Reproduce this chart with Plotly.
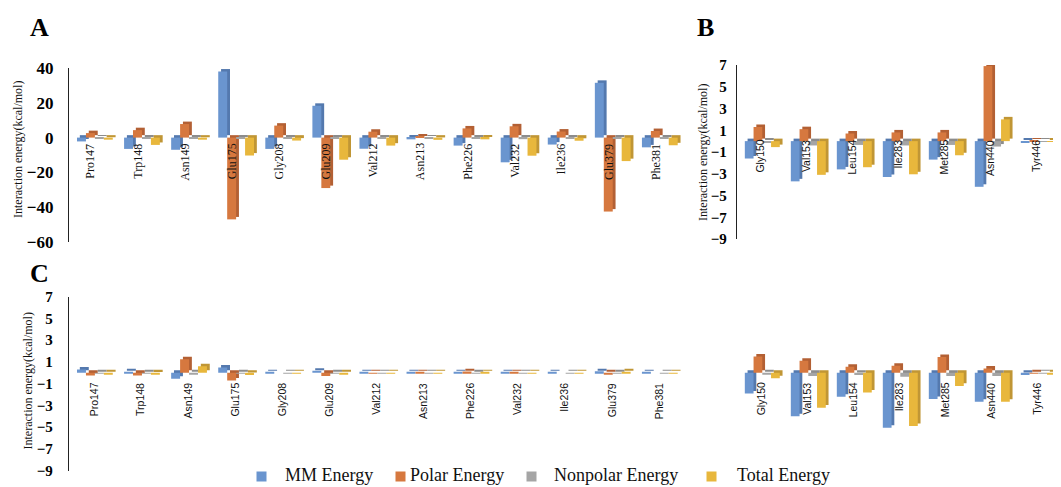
import plotly.graph_objects as go

# page is shown with the default 8px body margin; compensate so that
# the layout coordinates below are page pixels of the 1061x487 window
OFF = 8
W, H = 1061 - OFF, 487 - OFF

# ---------------- data ----------------
series_names = ["MM Energy", "Polar Energy", "Nonpolar Energy", "Total Energy"]

res_AC = ["Pro147", "Trp148", "Asn149", "Glu175", "Gly208", "Glu209", "Val212",
          "Asn213", "Phe226", "Val232", "Ile236", "Glu379", "Phe381"]
res_BD = ["Gly150", "Val153", "Leu154", "Ile283", "Met285", "Asn440", "Tyr446"]

A_mm = [-2.2, -6.5, -7.0, 38.0, -6.5, 18.3, -6.4, -1.0, -4.6, -14.2, -4.0, 31.5, -5.6]
A_polar = [2.6, 4.3, 7.8, -47.0, 6.9, -29.0, 3.4, 0.6, 5.3, 6.5, 3.5, -42.5, 3.8]
A_nonpolar = [-0.4, -0.6, -0.5, -0.6, -0.5, -0.7, -0.6, -0.3, -0.6, -0.9, -0.5, -0.7, -0.6]
A_total = [-1.2, -4.2, -1.2, -10.3, -1.7, -12.7, -4.6, -1.3, -1.0, -10.4, -1.8, -13.5, -4.4]

B_mm = [-1.6, -3.7, -2.6, -3.3, -1.7, -4.2, -0.1]
B_polar = [1.3, 1.1, 0.7, 0.8, 0.8, 6.9, 0.05]
B_nonpolar = [-0.1, -0.4, -0.35, -0.4, -0.35, -0.5, -0.02]
B_total = [-0.55, -3.1, -2.4, -3.05, -1.3, 2.0, -0.05]

C_mm = [0.3, 0.08, -0.55, 0.5, 0.03, 0.2, 0.03, 0.03, 0.05, 0.03, 0.03, 0.15, 0.03]
C_polar = [-0.25, -0.25, 1.25, -0.7, 0.0, -0.3, -0.02, 0.02, 0.12, 0.02, 0.0, -0.1, 0.0]
C_nonpolar = [-0.05, -0.05, -0.1, -0.05, -0.02, -0.05, -0.02, -0.02, -0.05, -0.02, -0.02, -0.05, -0.02]
C_total = [-0.1, -0.15, 0.6, -0.2, -0.02, -0.1, -0.02, -0.02, 0.05, -0.02, -0.02, 0.1, -0.02]

D_mm = [-1.9, -4.0, -2.2, -5.05, -2.4, -2.65, -0.2]
D_polar = [1.5, 1.1, 0.55, 0.65, 1.45, 0.4, -0.05]
D_nonpolar = [-0.1, -0.3, -0.2, -0.35, -0.3, -0.3, -0.02]
D_total = [-0.5, -3.2, -1.8, -4.9, -1.2, -2.65, -0.1]

A_ticks = [-60, -40, -20, 0, 20, 40]
BC_ticks = [-9, -7, -5, -3, -1, 1, 3, 5, 7]

# ---------------- styling ----------------
front = ["#6A95CF", "#D6783F", "#A5A5A5", "#E8B73C"]
dark = ["#5479AE", "#B36034", "#8C8C8C", "#C09635"]
offsets = [-0.33, -0.14, 0.05, 0.24]
bw = 0.19
dx = 0.06


def px(p):
    return (p - OFF) / W


def py(p):
    return 1 - (p - OFF) / H


panels = [
    # key, cats, data, xaxis, yaxis, depth (data units ~ 2.5 px)
    ("A", res_AC, [A_mm, A_polar, A_nonpolar, A_total], "x", "y", 1.4),
    ("B", res_BD, [B_mm, B_polar, B_nonpolar, B_total], "x2", "y2", 0.23),
    ("C", res_AC, [C_mm, C_polar, C_nonpolar, C_total], "x3", "y3", 0.23),
    ("D", res_BD, [D_mm, D_polar, D_nonpolar, D_total], "x4", "y4", 0.23),
]

fig = go.Figure()
annotations = []

for key, cats, data, xa, ya, depth in panels:
    for i, vals in enumerate(data):
        fig.add_trace(go.Bar(
            x=cats, y=vals, base=depth, offset=offsets[i] + dx, width=bw,
            marker=dict(color=dark[i], line=dict(width=0)),
            xaxis=xa, yaxis=ya, showlegend=False, hoverinfo="skip"))
        fig.add_trace(go.Bar(
            x=cats, y=vals, offset=offsets[i], width=bw, name=series_names[i],
            marker=dict(color=front[i], line=dict(width=0)),
            xaxis=xa, yaxis=ya, showlegend=False))
    # category labels along the zero line
    if key == "A":
        fnt = dict(family="Liberation Serif", size=12, color="#111")
        ysh, xsh = -4, -2
    elif key == "B":
        fnt = dict(family="Liberation Sans", size=10.5, color="#111")
        ysh, xsh = 3, 0
    else:
        fnt = dict(family="Liberation Sans", size=10.5, color="#111")
        ysh, xsh = -8, 1
    for c in cats:
        annotations.append(dict(
            x=c, y=0, xref=xa, yref=ya, text=c, textangle=-90, showarrow=False,
            xanchor="center", yanchor="top", yshift=ysh, xshift=xsh, font=fnt))

# y-axis titles
ytitle = "Interaction energy(kcal/mol)"
for xx, yy in [(18, 150), (703, 153), (27.5, 381)]:
    annotations.append(dict(
        x=px(xx), y=py(yy), xref="paper", yref="paper", text=ytitle,
        textangle=-90, showarrow=False, xanchor="center", yanchor="middle",
        font=dict(family="Liberation Serif", size=12, color="#111")))

# panel letters
for letter, xx, yy in [("A", 39, 27), ("B", 705, 27), ("C", 39, 273)]:
    annotations.append(dict(
        x=px(xx), y=py(yy), xref="paper", yref="paper", text=letter,
        showarrow=False, xanchor="center", yanchor="middle",
        font=dict(family="Liberation Serif", size=26, color="#000", weight="bold")))

# legend (manual, to reproduce spacing)
leg_sq = [261, 400, 531, 711]
leg_tx = [283, 408, 552, 735]
for i in range(4):
    annotations.append(dict(
        x=px(leg_sq[i]), y=py(476), xref="paper", yref="paper", text=" ",
        showarrow=False, xanchor="center", yanchor="middle", bgcolor=front[i],
        width=9, height=9, borderpad=0, font=dict(size=4)))
    annotations.append(dict(
        x=px(leg_tx[i]), y=py(475), xref="paper", yref="paper", text=series_names[i],
        showarrow=False, xanchor="left", yanchor="middle",
        font=dict(family="Liberation Serif", size=18, color="#111")))

xcommon = dict(showticklabels=False, showgrid=False, zeroline=False, showline=False,
               ticks="", type="category", fixedrange=True, automargin=False)
ycommon = dict(showgrid=False, zeroline=False, showline=True, linecolor="#222",
               linewidth=1.3, ticks="", fixedrange=True, automargin=False)

fig.update_layout(
    template="none",
    width=W, height=H, margin=dict(l=0, r=0, t=0, b=0, pad=0, autoexpand=False),
    paper_bgcolor="white", plot_bgcolor="white",
    barmode="overlay", showlegend=False,
    annotations=annotations,
    xaxis=dict(domain=[px(69), px(681)], range=[-0.5, 12.5], anchor="y", **xcommon),
    xaxis2=dict(domain=[px(737), px(1059)], range=[-0.5, 6.5], anchor="y2", **xcommon),
    xaxis3=dict(domain=[px(69), px(681)], range=[-0.5, 12.5], anchor="y3", **xcommon),
    xaxis4=dict(domain=[px(737), px(1059)], range=[-0.5, 6.5], anchor="y4", **xcommon),
    yaxis=dict(domain=[py(242), py(68)], range=[-60, 40], tickvals=A_ticks, anchor="x",
               ticklabelstandoff=11,
               tickfont=dict(family="Liberation Serif", size=17, color="#000", weight="bold"),
               **ycommon),
    yaxis2=dict(domain=[py(239), py(65)], range=[-9, 7], tickvals=BC_ticks, anchor="x2",
                ticklabelstandoff=6,
                tickfont=dict(family="Liberation Serif", size=15, color="#000", weight="bold"),
                **ycommon),
    yaxis3=dict(domain=[py(470.7), py(296.7)], range=[-9, 7], tickvals=BC_ticks, anchor="x3",
                ticklabelstandoff=12,
                tickfont=dict(family="Liberation Serif", size=15, color="#000", weight="bold"),
                **ycommon),
    yaxis4=dict(domain=[py(470.7), py(296.7)], range=[-9, 7], anchor="x4",
                showgrid=False, zeroline=False, showline=False, showticklabels=False,
                ticks="", fixedrange=True, automargin=False),
)

fig.write_html("out.html")
